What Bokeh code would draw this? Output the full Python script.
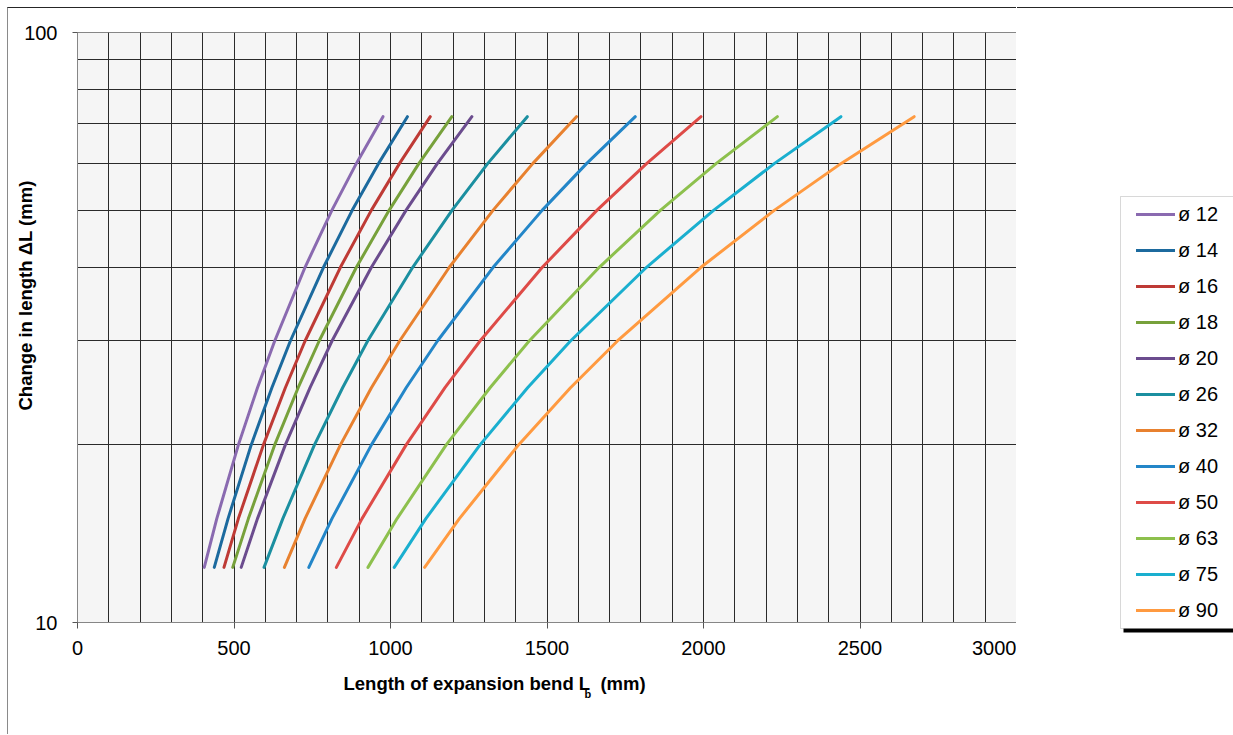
from bokeh.plotting import figure
from bokeh.models import (FixedTicker, BasicTickFormatter, Legend, LegendItem, Title,
                          BoxAnnotation)
from bokeh.embed import file_html
from bokeh.resources import INLINE

# Change in length ΔL (mm) at which each curve was read
delta_L = [12.4, 15, 20, 25, 30, 40, 50, 60, 72]

# Length of expansion bend Lb (mm) read for each pipe diameter at the ΔL levels above
Lb_12 = [405, 445, 514, 575, 630, 727, 813, 891, 976]
Lb_14 = [437, 481, 555, 621, 680, 786, 878, 962, 1054]
Lb_16 = [468, 514, 594, 664, 727, 840, 939, 1029, 1127]
Lb_18 = [496, 546, 630, 705, 772, 891, 996, 1091, 1196]
Lb_20 = [523, 575, 664, 743, 813, 939, 1050, 1150, 1260]
Lb_26 = [596, 656, 757, 847, 927, 1071, 1197, 1311, 1437]
Lb_32 = [661, 727, 840, 939, 1029, 1188, 1328, 1455, 1594]
Lb_40 = [739, 813, 939, 1050, 1150, 1328, 1485, 1627, 1782]
Lb_50 = [827, 909, 1050, 1174, 1286, 1485, 1660, 1819, 1992]
Lb_63 = [928, 1021, 1178, 1318, 1443, 1667, 1863, 2041, 2236]
Lb_75 = [1012, 1113, 1286, 1438, 1575, 1818, 2033, 2227, 2439]
Lb_90 = [1109, 1220, 1409, 1575, 1725, 1992, 2227, 2440, 2673]

series_names = ["ø 12", "ø 14", "ø 16", "ø 18", "ø 20", "ø 26",
                "ø 32", "ø 40", "ø 50", "ø 63", "ø 75", "ø 90"]
series_values = [Lb_12, Lb_14, Lb_16, Lb_18, Lb_20, Lb_26,
                 Lb_32, Lb_40, Lb_50, Lb_63, Lb_75, Lb_90]
series_colors = ["#8A6AB0", "#1C6A9E", "#BE3A35", "#77A13B", "#6B4C8E", "#1B8FA0",
                 "#E8812F", "#2386C8", "#DE4B47", "#8DC04D", "#1AAFCF", "#FF9A40"]

x_ticks = [0, 500, 1000, 1500, 2000, 2500, 3000]
x_grid = list(range(0, 3001, 100))
y_ticks = [10, 100]
y_grid = [10, 20, 30, 40, 50, 60, 70, 80, 90, 100]

FONT = "Liberation Sans"
H = 727
FL, FT, FW, FH = 69, 24, 939, 590
PW = FL + FW + 1          # main figure width
LW = 1225 - PW            # legend strip width

# ---------------- main chart ----------------
p = figure(width=PW, height=H, x_range=(0, 3000), y_range=(10, 100),
           y_axis_type="log", output_backend="svg", toolbar_location=None)
p.styles = {"margin-left": "7px", "margin-top": "7px",
            "border-top": "1px solid #262626", "border-left": "1px solid #8a8a8a"}
p.min_border_left = FL
p.min_border_right = 1
p.min_border_top = FT
p.min_border_bottom = H - FT - FH

p.background_fill_color = "#F5F5F5"
p.border_fill_color = "white"
p.outline_line_color = "#868686"

p.xgrid.ticker = FixedTicker(ticks=x_grid)
p.ygrid.ticker = FixedTicker(ticks=y_grid)
for g in (p.xgrid, p.ygrid):
    g.grid_line_color = "#2a2a2a"
    g.grid_line_width = 1
    g.minor_grid_line_color = None

p.xaxis.ticker = FixedTicker(ticks=x_ticks)
p.yaxis.ticker = FixedTicker(ticks=y_ticks)
p.yaxis.formatter = BasicTickFormatter()
for ax in (p.xaxis, p.yaxis):
    ax.axis_line_color = "#868686"
    ax.major_tick_line_color = "#555555"
    ax.minor_tick_line_color = None
    ax.major_tick_in = 0
    ax.major_label_text_font = FONT
    ax.major_label_text_font_size = "20px"
    ax.major_label_text_color = "black"
    ax.axis_label = None
p.xaxis.major_tick_out = 6
p.xaxis.major_label_standoff = 12
p.yaxis.major_tick_out = 5
p.yaxis.major_label_standoff = 15

for name, vals, col in zip(series_names, series_values, series_colors):
    p.line(vals, delta_L, line_color=col, line_width=3, line_cap="round", line_join="round")

x_title = Title(text="Length of expansion bend L\u00a0\u00a0(mm)", align="left", offset=266,
                standoff=26, text_font=FONT, text_font_size="18.5px", text_font_style="bold",
                text_color="black")
x_sub = Title(text="b", align="left", offset=507, standoff=-37, vertical_align="top",
              text_font=FONT, text_font_size="11px", text_font_style="bold", text_color="black")
y_title = Title(text="Change in length ΔL (mm)", align="left", offset=212, standoff=-28,
                text_font=FONT, text_font_size="18.5px", text_font_style="bold",
                text_color="black")
p.add_layout(x_title, "below")
p.add_layout(x_sub, "below")
p.add_layout(y_title, "left")

# ---------------- legend strip (pixel space) ----------------
q = figure(width=LW, height=H, x_range=(0, LW), y_range=(0, H),
           x_axis_location=None, y_axis_location=None,
           output_backend="svg", toolbar_location=None)
q.styles = {"position": "absolute", "left": f"{8 + PW}px", "top": "7px",
            "border-top": "1px solid #262626"}
q.min_border = 0
q.min_border_left = q.min_border_right = q.min_border_top = q.min_border_bottom = 0
q.outline_line_color = None
q.background_fill_color = "white"
q.border_fill_color = "white"
q.grid.visible = False

q.add_layout(BoxAnnotation(left=106, right=LW + 20, bottom=103, top=535,
                           fill_color="black", fill_alpha=1, line_color=None))
q.add_layout(BoxAnnotation(left=103, right=LW + 20, bottom=107, top=539,
                           fill_color="white", fill_alpha=1,
                           line_color="#7f7f7f", line_width=1))

# legend renderers: same series, lying outside this strip's visible range
items = []
for name, vals, col in zip(series_names, series_values, series_colors):
    r = q.line(vals, delta_L, line_color=col, line_width=3, line_cap="round")
    items.append(LegendItem(label=name, renderers=[r]))

legend = Legend(items=items, location=(119, 113), orientation="vertical",
                padding=8, margin=0, spacing=12, glyph_width=39, glyph_height=24,
                label_height=24, label_standoff=3,
                label_text_font=FONT, label_text_font_size="20px", label_text_color="black",
                border_line_color=None, background_fill_alpha=0)
q.add_layout(legend, "center")

open("out.html", "w").write(file_html([p, q], INLINE))
